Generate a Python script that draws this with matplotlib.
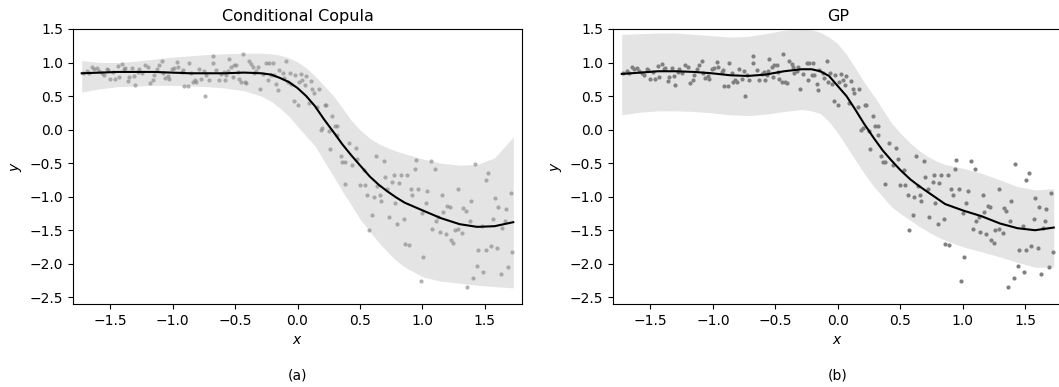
import numpy as np
import matplotlib
matplotlib.use("Agg")
import matplotlib.pyplot as plt

# observed data (same in both panels)
x_obs = [-1.72, -1.69, -1.67, -1.65, -1.63, -1.61, -1.59, -1.57, -1.55, -1.53, -1.52, -1.50,
         -1.48, -1.46, -1.44, -1.43, -1.41, -1.39, -1.38, -1.36, -1.35, -1.33, -1.31, -1.30,
         -1.28, -1.27, -1.25, -1.22, -1.20, -1.18, -1.16, -1.15, -1.13, -1.11, -1.09, -1.08,
         -1.06, -1.04, -1.03, -1.01, -0.99, -0.97, -0.96, -0.93, -0.92, -0.91, -0.88, -0.87,
         -0.85, -0.84, -0.82, -0.81, -0.79, -0.77, -0.75, -0.74, -0.73, -0.71, -0.68, -0.68,
         -0.65, -0.63, -0.61, -0.59, -0.58, -0.57, -0.56, -0.55, -0.53, -0.52, -0.51, -0.49,
         -0.48, -0.47, -0.45, -0.44, -0.42, -0.41, -0.39, -0.37, -0.36, -0.35, -0.33, -0.32,
         -0.30, -0.28, -0.25, -0.24, -0.23, -0.21, -0.19, -0.17, -0.16,
         -0.20, -0.15, -0.12, -0.11, -0.09, -0.08, -0.06, -0.05, -0.03, -0.02, 0.00, 0.01,
         0.03, 0.04, 0.06, 0.07, 0.09, 0.11, 0.12, 0.13, 0.16, 0.17, 0.22, 0.23, 0.28, 0.20,
         0.19, 0.25, 0.30, 0.32, 0.32, 0.26, 0.35, 0.36, 0.38, 0.41, 0.47, 0.48, 0.44, 0.63,
         0.69, 0.95, 1.07, 1.42, 0.94, 1.10,
         0.38, 0.53, 0.50, 0.54, 0.56, 0.61, 0.60, 0.57, 0.64, 0.66, 0.67, 0.70, 0.72, 0.73,
         0.76, 0.77, 0.78, 0.80, 0.81, 0.83, 0.85, 0.86, 0.88, 0.89, 0.91, 0.92, 0.97, 0.99,
         1.00, 1.01, 1.03, 1.04, 1.08, 1.11, 1.13, 1.14, 1.16, 1.17, 1.19, 1.20, 1.22, 1.23,
         1.25, 1.26, 1.29, 1.29, 1.32, 1.33, 1.35, 1.36, 1.38, 1.39, 1.41, 1.44, 1.45, 1.48,
         1.49, 1.51, 1.51, 1.53, 1.55, 1.57, 1.58, 1.60, 1.61, 1.63, 1.64, 1.66, 1.67, 1.69,
         1.71, 1.72]
y_obs = [0.85, 0.88, 0.84, 0.93, 0.90, 0.92, 0.88, 0.84, 0.82, 0.91, 0.89, 0.76,
         0.86, 0.76, 0.95, 0.78, 0.98, 0.91, 0.92, 0.72, 0.79, 0.92, 0.80, 0.67,
         0.86, 0.91, 0.84, 0.97, 0.94, 0.70, 0.74, 0.82, 0.90, 0.96, 1.02, 0.85,
         0.77, 0.80, 0.75, 0.91, 0.92, 1.01, 0.94, 0.86, 0.89, 0.65, 0.65, 0.99,
         0.84, 0.71, 0.74, 0.71, 0.90, 0.75, 0.88, 0.50, 0.82, 0.74, 0.99, 1.10,
         0.89, 0.74, 0.83, 0.86, 0.74, 0.82, 0.87, 1.06, 0.94, 0.79, 0.96, 0.97,
         0.86, 0.76, 0.71, 1.13, 0.71, 0.70, 1.02, 0.98, 0.94, 0.84, 0.87, 0.93,
         0.61, 0.83, 1.00, 0.74, 1.00, 0.81, 0.82, 0.68, 0.59,
         0.99, 0.89, 0.85, 0.77, 1.02, 0.71, 0.84, 0.68, 0.43, 0.81, 0.37, 0.71,
         0.83, 0.74, 0.66, 0.80, 0.39, 0.73, 0.60, 0.55, 0.34, 0.61, 0.37, 0.36, 0.20, 0.03,
         0.00, -0.02, 0.06, 0.05, -0.08, -0.29, -0.39, -0.49, -0.48, -0.20, -0.28, -0.44, -0.53, -0.40,
         -0.47, -0.46, -0.47, -0.51, -0.58, -0.58,
         -0.81, -0.60, -0.83, -0.82, -0.97, -1.00, -1.28, -1.49, -0.84, -0.97, -1.06, -0.70, -0.89, -1.30,
         -0.78, -0.68, -1.10, -1.40, -0.80, -0.68, -1.33, -1.71, -0.67, -1.72, -0.89, -0.97, -0.89, -2.26,
         -1.24, -1.90, -1.09, -0.91, -1.48, -1.37, -1.31, -1.52, -0.98, -1.23, -1.56, -1.14, -1.16, -1.65,
         -1.69, -1.50, -1.48, -0.88, -1.54, -1.17, -1.21, -2.35, -1.37, -1.06, -2.21, -2.03, -1.80, -1.43,
         -2.12, -1.80, -0.75, -0.64, -1.74, -1.34, -1.02, -1.77, -1.15, -2.16, -1.47, -1.36, -1.18, -2.05,
         -0.95, -1.82]

# predictive grid
x_grid = [-1.73, -1.58, -1.44, -1.30, -1.15, -1.01, -0.86, -0.72, -0.58, -0.43, -0.29, -0.21,
          -0.14, -0.07, 0.00, 0.07, 0.14, 0.21, 0.29, 0.36, 0.43, 0.50, 0.58, 0.65, 0.72, 0.79,
          0.86, 1.01, 1.15, 1.30, 1.44, 1.58, 1.73]

# Conditional Copula
cc_mean = [0.84, 0.85, 0.86, 0.86, 0.86, 0.85, 0.84, 0.84, 0.84, 0.85, 0.84, 0.82,
           0.77, 0.71, 0.62, 0.50, 0.35, 0.16, -0.04, -0.22, -0.38, -0.53, -0.70, -0.82, -0.92, -1.01,
           -1.09, -1.21, -1.32, -1.41, -1.45, -1.44, -1.38]
cc_upper = [1.03, 1.00, 1.00, 1.02, 1.05, 1.08, 1.10, 1.12, 1.13, 1.14, 1.14, 1.13,
            1.11, 1.07, 1.01, 0.92, 0.80, 0.66, 0.50, 0.32, 0.14, 0.00, -0.13, -0.21, -0.27, -0.32,
            -0.36, -0.44, -0.50, -0.53, -0.52, -0.42, -0.11]
cc_lower = [0.56, 0.61, 0.64, 0.65, 0.66, 0.66, 0.65, 0.64, 0.62, 0.58, 0.50, 0.42,
            0.32, 0.20, 0.05, -0.10, -0.24, -0.46, -0.70, -0.92, -1.12, -1.33, -1.52, -1.68, -1.82, -1.95,
            -2.05, -2.20, -2.26, -2.29, -2.32, -2.34, -2.36]

# GP
gp_mean = [0.83, 0.85, 0.87, 0.87, 0.86, 0.84, 0.81, 0.80, 0.82, 0.87, 0.90, 0.90,
           0.87, 0.80, 0.65, 0.50, 0.30, 0.09, -0.13, -0.31, -0.46, -0.60, -0.74, -0.84, -0.93, -1.02,
           -1.11, -1.21, -1.29, -1.40, -1.47, -1.50, -1.46]
gp_upper = [1.42, 1.43, 1.44, 1.44, 1.42, 1.40, 1.38, 1.39, 1.43, 1.48, 1.50, 1.49,
            1.45, 1.38, 1.28, 1.12, 0.92, 0.71, 0.50, 0.30, 0.10, -0.05, -0.20, -0.31, -0.40, -0.47,
            -0.52, -0.58, -0.65, -0.75, -0.85, -0.90, -0.88]
gp_lower = [0.22, 0.26, 0.28, 0.28, 0.27, 0.25, 0.22, 0.21, 0.23, 0.27, 0.30, 0.28,
            0.24, 0.12, -0.05, -0.25, -0.45, -0.65, -0.85, -1.00, -1.15, -1.25, -1.35, -1.44, -1.52, -1.59,
            -1.65, -1.75, -1.82, -1.90, -1.98, -2.05, -2.05]

fig = plt.figure(figsize=(10.59, 3.87), dpi=100)
ax1 = fig.add_axes([73 / 1059, 83 / 387, 449 / 1059, 275 / 387])
ax2 = fig.add_axes([613 / 1059, 83 / 387, 449.5 / 1059, 275 / 387])

panels = [(ax1, cc_mean, cc_upper, cc_lower, "Conditional Copula", 0.6, "(a)"),
          (ax2, gp_mean, gp_upper, gp_lower, "GP", 1.0, "(b)")]

for ax, mean, up, lo, title, a, cap in panels:
    ax.fill_between(x_grid, lo, up, color="#e4e4e4", linewidth=0, zorder=1)
    ax.scatter(x_obs, y_obs, s=9, color="gray", alpha=a, linewidths=0, zorder=2)
    ax.plot(x_grid, mean, color="black", lw=1.5, zorder=3)
    ax.set_xlim(-1.8, 1.8)
    ax.set_ylim(-2.6, 1.5)
    ax.set_xticks([-1.5, -1.0, -0.5, 0.0, 0.5, 1.0, 1.5])
    ax.set_yticks([-2.5, -2.0, -1.5, -1.0, -0.5, 0.0, 0.5, 1.0, 1.5])
    ax.set_title(title, fontsize=11.5)
    ax.set_xlabel("$x$")
    ax.set_ylabel("$y$")
    ax.text(0.5, -0.26, cap, transform=ax.transAxes, ha="center", va="center", fontsize=10)

fig.savefig("out.png", dpi=100)
